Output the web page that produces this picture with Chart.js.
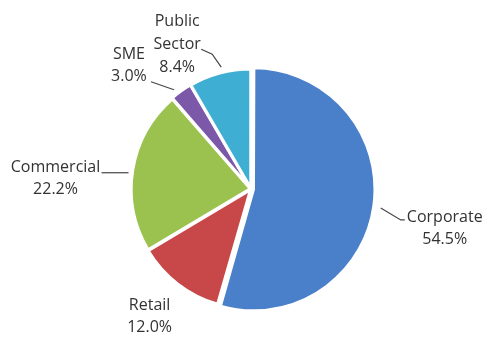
<!DOCTYPE html>
<html>
<head>
<meta charset="utf-8">
<script src="https://cdn.jsdelivr.net/npm/chart.js@4/dist/chart.umd.min.js"></script>
<style>
  html, body { margin: 0; padding: 0; background: #ffffff; }
  #wrap { width: 486px; height: 340px; position: relative; }
</style>
</head>
<body>
<div id="wrap"><canvas id="chart"></canvas></div>
<script>
// --- data ---
const segments = ['Corporate', 'Retail', 'Commercial', 'SME', 'Public Sector'];
const shares = [54.5, 12.0, 22.2, 3.0, 8.4];
const sliceColors = ['#4a7fc9', '#c8484a', '#9bc24f', '#7b58a8', '#3faed3'];
const sliceOffsets = [10, 3, 3, 3, 3];

// label text lines, placed relative to the slice's outer edge midpoint
const labelLines = [
  ['Corporate'],
  ['Retail'],
  ['Commercial'],
  ['SME'],
  ['Public', 'Sector'],
];
const labelLayout = [
  { dx: 66, dy: 10, leader: [[2, 1], [22, 13], [26, 13]] },
  { dx: -27, dy: 20, leader: null },
  { dx: -75, dy: -2, leader: [[-2, 3], [-29, 3]] },
  { dx: -51, dy: -35, leader: [[-6, 0], [-29, -8]] },
  { dx: -42, dy: -50, leader: [[2, -4], [-7, -17], [-18, -22]] },
];

const FONT = "16px 'Open Sans', sans-serif";
const LINE_H = 22;

const pieLabels = {
  id: 'pieLabels',
  afterDatasetsDraw(chart) {
    const ctx = chart.ctx;
    const meta = chart.getDatasetMeta(0);
    ctx.save();
    ctx.font = FONT;
    ctx.fillStyle = '#333333';
    ctx.strokeStyle = '#444444';
    ctx.lineWidth = 1.2;
    ctx.textAlign = 'center';
    ctx.textBaseline = 'middle';
    meta.data.forEach((arc, i) => {
      const mid = (arc.startAngle + arc.endAngle) / 2;
      const r = arc.outerRadius + sliceOffsets[i];
      const ex = arc.x + Math.cos(mid) * r;
      const ey = arc.y + Math.sin(mid) * r;
      const lay = labelLayout[i];
      if (lay.leader) {
        ctx.beginPath();
        lay.leader.forEach(([px, py], k) => {
          if (k === 0) ctx.moveTo(ex + px, ey + py);
          else ctx.lineTo(ex + px, ey + py);
        });
        ctx.stroke();
      }
      const lines = labelLines[i].concat([shares[i].toFixed(1) + '%']);
      const step = lines.length > 2 ? 23 : LINE_H;
      lines.forEach((t, k) => {
        ctx.fillText(t, ex + lay.dx, ey + lay.dy + k * step);
      });
    });
    ctx.restore();
  }
};

new Chart(document.getElementById('chart'), {
  type: 'pie',
  data: {
    labels: segments,
    datasets: [{
      data: shares,
      backgroundColor: sliceColors,
      borderColor: '#ffffff',
      borderWidth: 3,
      offset: sliceOffsets,
      radius: 119,
    }]
  },
  options: {
    responsive: true,
    maintainAspectRatio: false,
    animation: false,
    layout: { padding: { left: 120, right: 104, top: 60, bottom: 22 } },
    plugins: {
      legend: { display: false },
      tooltip: { enabled: false },
    }
  },
  plugins: [pieLabels]
});
</script>
</body>
</html>
